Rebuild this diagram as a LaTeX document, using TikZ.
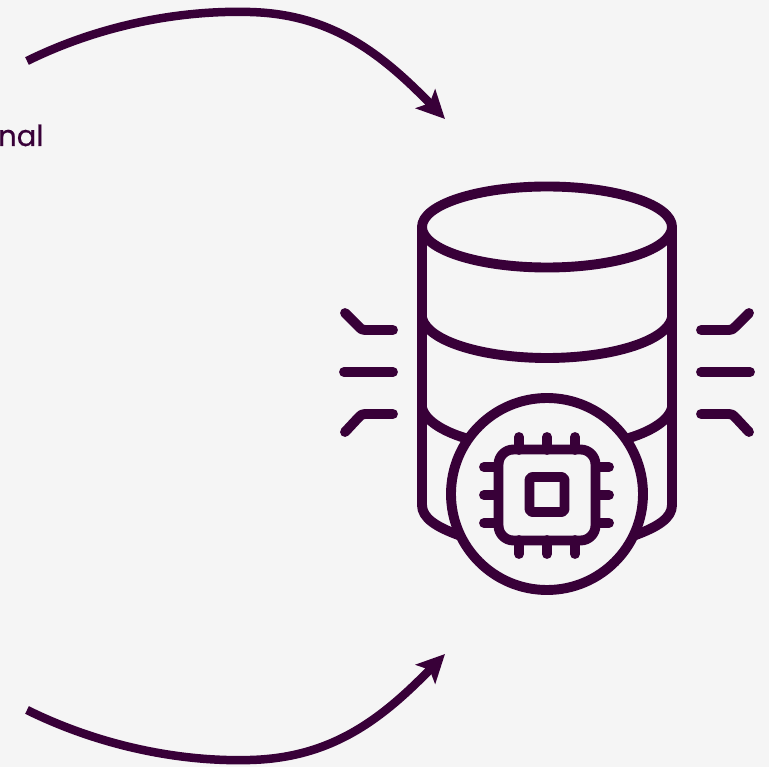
\documentclass[tikz,border=0pt]{standalone}
\usepackage{fontspec}
\setmainfont[RawFeature={embolden=0.7}]{Poppins}
\usetikzlibrary{arrows.meta}
\definecolor{ink}{HTML}{380038}
\definecolor{paper}{HTML}{F5F5F5}
\tikzset{
  x=1pt,y=-1pt,
  icon/.style={draw=ink,line width=9.9pt,line cap=round,line join=round},
  flow/.style={draw=ink,line width=8.5pt,-{Stealth[length=28pt,width=27pt,inset=6pt]}},
  label/.style={text=ink,font=\fontsize{29}{34}\selectfont,inner sep=0pt,anchor=base west},
}
\begin{document}
\begin{tikzpicture}
\fill[paper] (0,0) rectangle (769,767);
\useasboundingbox (0,0) rectangle (769,767);
\clip (0,0) rectangle (769,767);
% label
\node[label] (lbl) at (-2,146) {nal};
% arrows
\coordinate (a1s) at (27,61);
\coordinate (a1m) at (250,12);
\coordinate (a1e) at (445,119);
\coordinate (a2s) at (27,710);
\coordinate (a2m) at (250,760);
\coordinate (a2e) at (445,654);
\draw[flow] (a1s) .. controls (100,25) and (180,10) .. (a1m) .. controls (330,14) and (380,52) .. (a1e);
\draw[flow] (a2s) .. controls (100,746) and (180,762) .. (a2m) .. controls (330,758) and (380,721) .. (a2e);
% cylinder
\draw[icon] (547,227) ellipse [x radius=125,y radius=40.5];
\draw[icon] (422,227) -- (422,505) .. controls (422,518) and (436,527) .. (461,536);
\draw[icon] (672,227) -- (672,505) .. controls (672,518) and (658,527) .. (633,536);
\draw[icon] (422,318) .. controls (428,342) and (485,358) .. (547,358) .. controls (609,358) and (666,342) .. (672,318);
\draw[icon] (422,408) .. controls (425,420) and (442,431) .. (465,438);
\draw[icon] (672,408) .. controls (669,420) and (652,431) .. (629,438);
% badge
\filldraw[icon,fill=paper] (547,494) circle [radius=96];
% chip
\draw[icon,rounded corners=15pt] (498.5,449.5) rectangle (595.5,540.5);
\draw[icon,rounded corners=3pt] (529.5,477) rectangle (564.5,512);
\foreach \px in {519,547,575}{
  \draw[icon] (\px,437) -- (\px,450);
  \draw[icon] (\px,540) -- (\px,554);
}
\foreach \py in {467,495,523}{
  \draw[icon] (484,\py) -- (498,\py);
  \draw[icon] (596,\py) -- (609,\py);
}
% side marks
\draw[icon] (345,313) -- (359,327) .. controls (361,329) and (362,330) .. (365,330) -- (393,330);
\draw[icon] (344,372) -- (393,372);
\draw[icon] (345,432) -- (359,417) .. controls (361,415) and (362,414) .. (365,414) -- (393,414);
\draw[icon] (749,313) -- (735,327) .. controls (733,329) and (732,330) .. (729,330) -- (701,330);
\draw[icon] (750,372) -- (701,372);
\draw[icon] (749,432) -- (735,417) .. controls (733,415) and (732,414) .. (729,414) -- (701,414);
\end{tikzpicture}
\end{document}
